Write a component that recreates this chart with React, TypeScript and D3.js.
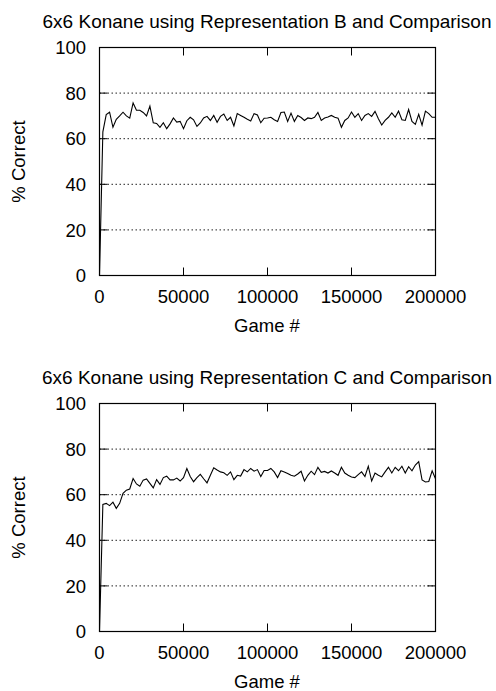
import React from "react";
import * as d3 from "d3";

// Percentage of correct moves, sampled every 2000 games
const GAMES_PER_SAMPLE = 2000;

const accuracyB: number[] = [
  0, 63, 70.6, 71.6, 65, 68.5, 70, 71.6, 70, 69,
  75.7, 72.5, 72.5, 71.5, 70, 74.3, 67, 66.7, 65, 67,
  64.4, 66.5, 69.1, 67.3, 67.6, 64.4, 67.9, 69.4, 68.3, 65.4,
  66.9, 69.1, 69.8, 68, 70.2, 67.2, 69.8, 70.8, 68, 69.4,
  65.6, 71, 70.2, 69.4, 68.5, 67.8, 71, 70.4, 67, 69,
  69.1, 69.4, 68.3, 67.6, 71.5, 71.7, 67.6, 71.2, 67.6, 70.2,
  69.3, 68, 69.1, 68.8, 69.4, 71.5, 68, 69.1, 69.5, 70.2,
  69.4, 69, 65, 68, 69.1, 71.7, 69.4, 71, 68, 70.2,
  71, 69.8, 72, 68.8, 66, 68, 69.4, 71.3, 69.4, 72.1,
  68.3, 68, 72.8, 67.6, 66.3, 70.7, 65.9, 72.1, 71, 69.4,
  69.4,
];

const accuracyC: number[] = [
  0, 55.7, 56.2, 55.2, 56.7, 54, 56.2, 60.6, 62, 62.5,
  67.1, 64.7, 63.7, 66.4, 66.9, 65, 63, 66.6, 64.5, 67.5,
  68.1, 66.5, 66.5, 67.3, 66, 67.5, 71.5, 68, 65.7, 67.5,
  68.9, 67, 65.2, 68.5, 71.8, 70.8, 70, 69.6, 68.5, 70,
  66.6, 68.5, 68.2, 71, 70, 71.5, 70.3, 71, 68, 70.6,
  70.6, 71.5, 70, 67.5, 70.5, 70, 69.3, 68.5, 68.1, 69.1,
  70.3, 66, 68.5, 70.3, 68.8, 72, 69.8, 70.2, 69.5, 70.4,
  69.5, 68.5, 72, 69.5, 68.5, 67.8, 67.5, 68.8, 70, 68,
  72.5, 66, 69.5, 68.5, 67.8, 70, 72, 69.5, 72, 70.5,
  72.5, 69.5, 72.3, 70.5, 73, 74.5, 66.5, 65.6, 65.8, 70.5,
  67,
];

const xTicks: number[] = [0, 50000, 100000, 150000, 200000];
const yTicks: number[] = [0, 20, 40, 60, 80, 100];
const gridValues: number[] = [20, 40, 60, 80];

const titles: string[] = [
  "6x6 Konane using Representation B and Comparison",
  "6x6 Konane using Representation C and Comparison",
];
const xLabel = "Game #";
const yLabel = "% Correct";

const FONT = "'Liberation Sans', Arial, Helvetica, sans-serif";
const FONT_SIZE = 18.5;
const TITLE_SIZE = 19;

const left = 99.5;
const right = 435.5;
const top = 47.5;
const bottom = 275.5;
const PANEL_STEP = 356;
const TICK = 8;

type PanelProps = { title: string; values: number[]; offsetY: number };

function Panel({ title, values, offsetY }: PanelProps) {
  const x = d3.scaleLinear().domain([0, 200000]).range([left, right]);
  const y = d3.scaleLinear().domain([0, 100]).range([bottom, top]);
  const points: [number, number][] = values.map((v, i) => [i * GAMES_PER_SAMPLE, v]);
  const line = d3
    .line<[number, number]>()
    .x((d) => x(d[0]))
    .y((d) => y(d[1]));

  return (
    <g transform={`translate(0,${offsetY})`}>
      <text
        x={267}
        y={28}
        textAnchor="middle"
        fontFamily={FONT}
        fontSize={TITLE_SIZE}
      >
        {title}
      </text>

      {gridValues.map((g) => (
        <line
          key={`g${g}`}
          x1={left}
          x2={right}
          y1={y(g)}
          y2={y(g)}
          stroke="#222"
          strokeWidth={1}
          strokeDasharray="1.5,2.5"
        />
      ))}

      {yTicks.map((t) => (
        <g key={`y${t}`}>
          <line x1={left} x2={left + TICK} y1={y(t)} y2={y(t)} stroke="#000" />
          <line x1={right} x2={right - TICK} y1={y(t)} y2={y(t)} stroke="#000" />
          <text
            x={86}
            y={y(t)}
            dy="0.36em"
            textAnchor="end"
            fontFamily={FONT}
            fontSize={FONT_SIZE}
          >
            {t}
          </text>
        </g>
      ))}

      {xTicks.map((t) => (
        <g key={`x${t}`}>
          <line x1={x(t)} x2={x(t)} y1={bottom} y2={bottom - TICK} stroke="#000" />
          <line x1={x(t)} x2={x(t)} y1={top} y2={top + TICK} stroke="#000" />
          <text
            x={x(t)}
            y={bottom + 27.5}
            textAnchor="middle"
            fontFamily={FONT}
            fontSize={FONT_SIZE}
          >
            {t}
          </text>
        </g>
      ))}

      <path d={line(points) ?? ""} fill="none" stroke="#000" strokeWidth={1.1} />

      <rect
        x={left}
        y={top}
        width={right - left}
        height={bottom - top}
        fill="none"
        stroke="#000"
        strokeWidth={1.2}
      />

      <text
        x={267}
        y={bottom + 56.5}
        textAnchor="middle"
        fontFamily={FONT}
        fontSize={FONT_SIZE}
      >
        {xLabel}
      </text>
      <text
        transform={`translate(25,${(top + bottom) / 2}) rotate(-90)`}
        textAnchor="middle"
        fontFamily={FONT}
        fontSize={FONT_SIZE}
      >
        {yLabel}
      </text>
    </g>
  );
}

export default function App() {
  return (
    <svg
      width={496}
      height={691}
      viewBox="0 0 496 691"
      style={{ position: "absolute", left: 0, top: 0, background: "#fff" }}
    >
      <rect width={496} height={691} fill="#fff" />
      <Panel title={titles[0]} values={accuracyB} offsetY={0} />
      <Panel title={titles[1]} values={accuracyC} offsetY={PANEL_STEP} />
    </svg>
  );
}
